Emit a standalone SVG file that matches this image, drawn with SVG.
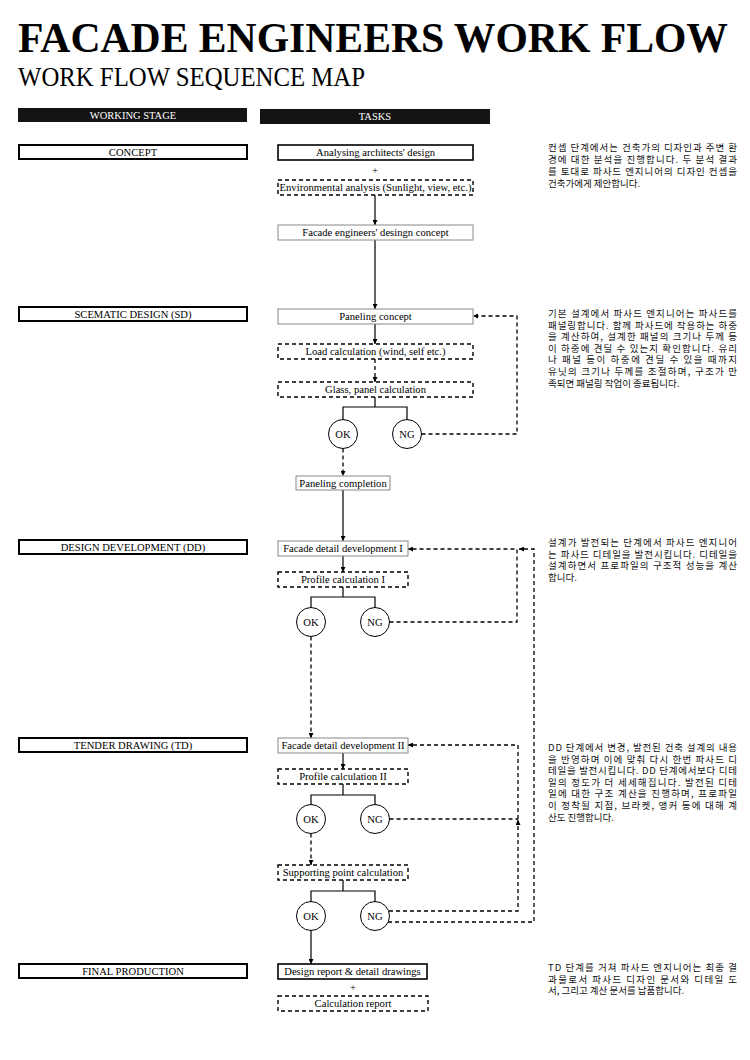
<svg xmlns="http://www.w3.org/2000/svg" width="750" height="1060" viewBox="0 0 750 1060">
<style>
.t{font-family:"Liberation Serif","Times New Roman",serif;font-size:10.6px;fill:#000;text-anchor:middle}
.st{fill:#fff;stroke:#000;stroke-width:2}
.bs{fill:#fff;stroke:#000;stroke-width:1.6}
.bg{fill:#fff;stroke:#888;stroke-width:1}
.bd{fill:#fff;stroke:#000;stroke-width:1.4;stroke-dasharray:4 3}
.c{fill:#fff;stroke:#000;stroke-width:1}
.ln{fill:none;stroke:#000;stroke-width:1.2}
.dl{fill:none;stroke:#000;stroke-width:1.3;stroke-dasharray:4 3}
.kr{font-family:"Noto Sans CJK KR","Noto Sans",sans-serif;font-size:9.5px;fill:#111}
.hd{fill:#141414}
.ht{font-family:"Liberation Serif","Times New Roman",serif;font-size:10.5px;fill:#fff;text-anchor:middle}
</style>
<defs>
<marker id="ah" viewBox="0 0 10 10" refX="10" refY="5" markerWidth="5" markerHeight="5" orient="auto" markerUnits="userSpaceOnUse">
<path d="M0,0 L10,5 L0,10 z" fill="#000"/>
</marker>
</defs>
<rect width="750" height="1060" fill="#fff"/>
<g id="title">
<text x="18" y="52" font-family="Liberation Serif, Times New Roman, serif" font-weight="bold" font-size="43" textLength="710" lengthAdjust="spacingAndGlyphs">FACADE ENGINEERS WORK FLOW</text>
<text x="18" y="86" font-family="Liberation Serif, Times New Roman, serif" font-size="28" textLength="347" lengthAdjust="spacingAndGlyphs">WORK FLOW SEQUENCE MAP</text>
</g>
<g id="header-stage"><rect class="hd" x="18" y="108" width="229" height="14"/><text class="ht" x="133" y="118.5">WORKING STAGE</text></g>
<g id="header-tasks"><rect class="hd" x="260" y="109" width="230" height="15"/><text class="ht" x="375" y="120">TASKS</text></g>

<g id="stage-concept"><rect class="st" x="19" y="145" width="228" height="14"/><text class="t" x="133" y="155.5">CONCEPT</text></g>
<g id="stage-sd"><rect class="st" x="19" y="307" width="228" height="14"/><text class="t" x="133" y="317.5">SCEMATIC DESIGN (SD)</text></g>
<g id="stage-dd"><rect class="st" x="19" y="540" width="228" height="14"/><text class="t" x="133" y="550.5">DESIGN DEVELOPMENT (DD)</text></g>
<g id="stage-td"><rect class="st" x="19" y="738" width="228" height="14"/><text class="t" x="133" y="748.5">TENDER DRAWING (TD)</text></g>
<g id="stage-final"><rect class="st" x="19" y="964" width="228" height="14"/><text class="t" x="133" y="974.5">FINAL PRODUCTION</text></g>

<g id="connectors">
<path class="ln" d="M375,195 V225" marker-end="url(#ah)"/>
<path class="ln" d="M375,240 V309" marker-end="url(#ah)"/>
<path class="ln" d="M375,324 V344" marker-end="url(#ah)"/>
<path class="dl" d="M375,359 V382" marker-end="url(#ah)"/>
<path class="ln" d="M375,397 V407 M343,420 V407 H407 V420"/>
<path class="dl" d="M421.5,434 H517 V316 H473" marker-end="url(#ah)"/>
<path class="dl" d="M343,448.5 V476" marker-end="url(#ah)"/>
<path class="ln" d="M343,490 V541" marker-end="url(#ah)"/>
<path class="ln" d="M343,556 V572" marker-end="url(#ah)"/>
<path class="ln" d="M343,587 V597 M311,608 V597 H375 V608"/>
<path class="dl" d="M389.5,622 H517 V549 H408" marker-end="url(#ah)"/>
<path class="dl" d="M311,636.5 V738" marker-end="url(#ah)"/>
<path class="ln" d="M343,753 V769" marker-end="url(#ah)"/>
<path class="ln" d="M343,784 V795 M311,806 V795 H375 V806"/>
<path class="dl" d="M389.5,819 H518"/>
<path class="dl" d="M311,833.5 V865" marker-end="url(#ah)"/>
<path class="ln" d="M343,880 V891 M311,902 V891 H375 V902"/>
<path class="dl" d="M389,911 H518 V820" marker-end="url(#ah)"/>
<path class="dl" d="M518,819 V745 H408" marker-end="url(#ah)"/>
<path class="dl" d="M388,922 H534 V549 H519" marker-end="url(#ah)"/>
<path class="ln" d="M311,930.5 V964" marker-end="url(#ah)"/>
</g>

<g id="task-analysing"><rect class="bs" x="278" y="145" width="195" height="15"/><text class="t" x="375.5" y="156">Analysing architects' design</text></g>
<g id="plus-1"><text class="t" x="375" y="174" fill="#555">+</text></g>
<g id="task-environmental"><rect class="bd" x="278" y="180" width="195" height="15"/><text class="t" x="375.5" y="191" textLength="192" lengthAdjust="spacingAndGlyphs">Environmental analysis (Sunlight, view, etc.)</text></g>
<g id="task-fe-concept"><rect class="bg" x="278" y="225" width="195" height="15"/><text class="t" x="375.5" y="236">Facade engineers' desingn concept</text></g>

<g id="task-paneling-concept"><rect class="bg" x="278" y="309" width="195" height="15"/><text class="t" x="375.5" y="320">Paneling concept</text></g>
<g id="task-load"><rect class="bd" x="278" y="344" width="195" height="15"/><text class="t" x="375.5" y="355">Load calculation (wind, self etc.)</text></g>
<g id="task-glass"><rect class="bd" x="278" y="382" width="195" height="15"/><text class="t" x="375.5" y="393">Glass, panel calculation</text></g>
<g id="sd-ok"><circle class="c" cx="343" cy="434" r="14.5"/><text class="t" x="343" y="437.5">OK</text></g>
<g id="sd-ng"><circle class="c" cx="407" cy="434" r="14.5"/><text class="t" x="407" y="437.5">NG</text></g>
<g id="task-paneling-completion"><rect class="bg" x="296" y="476" width="94" height="14"/><text class="t" x="343" y="486.5">Paneling completion</text></g>

<g id="task-fdd1"><rect class="bg" x="278" y="541" width="130" height="15"/><text class="t" x="343" y="552">Facade detail development I</text></g>
<g id="task-profile1"><rect class="bd" x="278" y="572" width="130" height="15"/><text class="t" x="343" y="583">Profile calculation I</text></g>
<g id="dd-ok"><circle class="c" cx="311" cy="622" r="14.5"/><text class="t" x="311" y="625.5">OK</text></g>
<g id="dd-ng"><circle class="c" cx="375" cy="622" r="14.5"/><text class="t" x="375" y="625.5">NG</text></g>

<g id="task-fdd2"><rect class="bg" x="278" y="738" width="130" height="15"/><text class="t" x="343" y="749">Facade detail development II</text></g>
<g id="task-profile2"><rect class="bd" x="278" y="769" width="130" height="15"/><text class="t" x="343" y="780">Profile calculation II</text></g>
<g id="td-ok1"><circle class="c" cx="311" cy="819" r="14.5"/><text class="t" x="311" y="822.5">OK</text></g>
<g id="td-ng1"><circle class="c" cx="375" cy="819" r="14.5"/><text class="t" x="375" y="822.5">NG</text></g>
<g id="task-supporting"><rect class="bd" x="278" y="865" width="130" height="15"/><text class="t" x="343" y="876">Supporting point calculation</text></g>
<g id="td-ok2"><circle class="c" cx="311" cy="916" r="14.5"/><text class="t" x="311" y="919.5">OK</text></g>
<g id="td-ng2"><circle class="c" cx="375" cy="916" r="14.5"/><text class="t" x="375" y="919.5">NG</text></g>

<g id="task-design-report"><rect class="bs" x="278" y="964" width="149" height="15"/><text class="t" x="352.5" y="975">Design report &amp; detail drawings</text></g>
<g id="plus-2"><text class="t" x="353" y="991" fill="#555">+</text></g>
<g id="task-calc-report"><rect class="bd" x="278" y="996" width="150" height="15"/><text class="t" x="353" y="1007">Calculation report</text></g>

<g id="note-concept" class="kr">
<text x="548" y="151" textLength="189" lengthAdjust="spacing">컨셉 단계에서는 건축가의 디자인과 주변 환</text>
<text x="548" y="163" textLength="189" lengthAdjust="spacing">경에 대한 분석을 진행합니다. 두 분석 결과</text>
<text x="548" y="175" textLength="189" lengthAdjust="spacing">를 토대로 파사드 엔지니어의 디자인 컨셉을</text>
<text x="548" y="187">건축가에게 제안합니다.</text>
</g>
<g id="note-sd" class="kr">
<text x="548" y="317" textLength="189" lengthAdjust="spacing">기본 설계에서 파사드 엔지니어는 파사드를</text>
<text x="548" y="328.6" textLength="189" lengthAdjust="spacing">패널링합니다. 함께 파사드에 작용하는 하중</text>
<text x="548" y="340.2" textLength="189" lengthAdjust="spacing">을 계산하여, 설계한 패널의 크기나 두께 등</text>
<text x="548" y="351.8" textLength="189" lengthAdjust="spacing">이 하중에 견딜 수 있는지 확인합니다. 유리</text>
<text x="548" y="363.4" textLength="189" lengthAdjust="spacing">나 패널 등이 하중에 견딜 수 있을 때까지</text>
<text x="548" y="375" textLength="189" lengthAdjust="spacing">유닛의 크기나 두께를 조절하며, 구조가 만</text>
<text x="548" y="386.6">족되면 패널링 작업이 종료됩니다.</text>
</g>
<g id="note-dd" class="kr">
<text x="548" y="546" textLength="189" lengthAdjust="spacing">설계가 발전되는 단계에서 파사드 엔지니어</text>
<text x="548" y="557.6" textLength="189" lengthAdjust="spacing">는 파사드 디테일을 발전시킵니다. 디테일을</text>
<text x="548" y="569.2" textLength="189" lengthAdjust="spacing">설계하면서 프로파일의 구조적 성능을 계산</text>
<text x="548" y="580.8">합니다.</text>
</g>
<g id="note-td" class="kr">
<text x="548" y="751" textLength="189" lengthAdjust="spacing">DD 단계에서 변경, 발전된 건축 설계의 내용</text>
<text x="548" y="762.6" textLength="189" lengthAdjust="spacing">을 반영하며 이에 맞춰 다시 한번 파사드 디</text>
<text x="548" y="774.2" textLength="189" lengthAdjust="spacing">테일을 발전시킵니다. DD 단계에서보다 디테</text>
<text x="548" y="785.8" textLength="189" lengthAdjust="spacing">일의 정도가 더 세세해집니다. 발전된 디테</text>
<text x="548" y="797.4" textLength="189" lengthAdjust="spacing">일에 대한 구조 계산을 진행하며, 프로파일</text>
<text x="548" y="809" textLength="189" lengthAdjust="spacing">이 정착될 지점, 브라켓, 앵커 등에 대해 계</text>
<text x="548" y="820.6">산도 진행합니다.</text>
</g>
<g id="note-final" class="kr">
<text x="548" y="971" textLength="189" lengthAdjust="spacing">TD 단계를 거쳐 파사드 엔지니어는 최종 결</text>
<text x="548" y="982.6" textLength="189" lengthAdjust="spacing">과물로서 파사드 디자인 문서와 디테일 도</text>
<text x="548" y="994.2">서, 그리고 계산 문서를 납품합니다.</text>
</g>
</svg>
